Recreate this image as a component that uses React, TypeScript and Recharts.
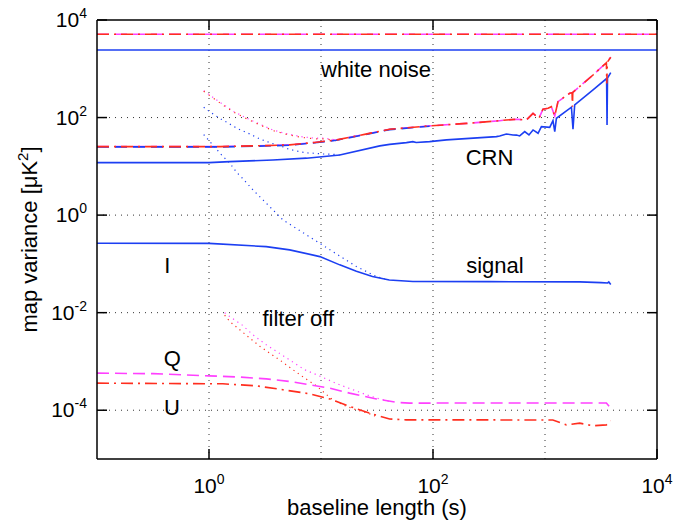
import { LineChart, Line, XAxis, YAxis, ReferenceLine, ReferenceDot, Label } from "recharts";

const FONT = '"Liberation Sans", Arial, Helvetica, sans-serif';
const BLUE = "#1c3ff2";
const RED = "#ff2e1f";
const MAGENTA = "#ff40ff";

// axes
const xTicks = [1, 100, 10000];
const yTicks = [1e-4, 1e-2, 1, 100, 10000];
const xGrid = [1, 10, 100, 1000];
const yGrid = [1e-4, 1e-2, 1, 100];

// white noise
const wnX = [0.1, 10000];
const wnI = [2430, 2430];
const wnQU = [5100, 5100];

// CRN, I (solid)
const crnIx = [0.1, 1, 1.53, 3.72, 7.41, 14.7, 33.5, 41, 57.9, 66.1, 70.8, 93.3, 132, 368, 394, 452, 518, 556, 594, 659, 719, 782, 867, 929, 1102, 1178, 1222, 1265, 1722, 1778, 1841, 2685, 3548, 3581, 3614, 3864];
const crnIy = [11.9, 11.9, 12.5, 13.5, 14.7, 17.1, 26.3, 28.2, 30.6, 32.1, 30.9, 32.1, 34.8, 40.6, 42.0, 46.1, 44.0, 43.7, 42.0, 51.4, 44.0, 55.7, 47.6, 65.2, 63.1, 86.3, 51.4, 96.8, 163, 57.5, 181, 368, 631, 70.5, 646, 832];

// CRN, Q (dashed) and U (dash-dot)
const crnQx = [0.1, 1.26, 2.63, 5.25, 8.79, 13.7, 25.1, 41, 93.3, 200, 394, 452, 556, 682, 782, 883, 959, 1064, 1140, 1222, 1306, 1660, 1758, 1905, 2685, 3532, 3864];
const crnQy = [25.4, 25.4, 26.3, 27.5, 30.9, 34.7, 45.7, 57.5, 67.6, 75.9, 86.3, 89.1, 92.3, 89.1, 122, 96.8, 148, 155, 167, 108, 212, 315, 324, 380, 746, 1334, 1722];
const crnUx = [0.1, 1.26, 2.63, 5.25, 8.79, 13.7, 25.1, 41, 93.3, 200, 394, 452, 556, 682, 782, 883, 959, 1064, 1140, 1222, 1306, 1660, 1745, 1758, 1770, 1905, 2685, 3532, 3565, 3600, 3864];
const crnUy = [25.4, 25.4, 26.3, 27.5, 30.9, 34.7, 45.7, 57.5, 67.6, 75.9, 86.3, 89.1, 92.3, 89.1, 122, 96.8, 148, 155, 167, 108, 212, 315, 322, 167, 328, 380, 746, 1334, 501, 1360, 1722];
const crnDashX = [0.1, 1.26, 2.63, 5.25, 8.79, 13.7, 25.1, 41, 93.3];
const crnDashY = [25.0, 25.0, 25.9, 27.0, 30.4, 34.2, 45.0, 56.6, 66.5];

// filter off, CRN
const offCrnQUx = [0.897, 1.29, 1.67, 2.18, 2.85, 3.72, 5.01, 6.68, 8.79, 10.8, 13.7];
const offCrnQUy = [356, 196, 132, 96.8, 72.9, 55.7, 46.1, 40.6, 37.7, 37.7, 34.7];
const offCrnIx = [0.897, 1.01, 1.29, 1.46, 1.67, 1.91, 2.18, 2.51, 2.85, 3.3, 3.78, 4.35, 5.01, 5.82, 6.68, 7.66, 8.79, 10.4, 12.4, 14.7];
const offCrnIy = [163, 132, 92.3, 78.7, 65.2, 55.7, 49.1, 42.0, 36.4, 32.1, 28.8, 26.2, 23.1, 21.0, 19.7, 18.8, 18.5, 17.9, 17.8, 17.1];

// signal
const sigIx = [0.1, 1, 3.24, 5.25, 9.77, 14.7, 20.7, 28.8, 40.7, 66.1, 316, 2042, 3162, 3631, 3715, 3864];
const sigIy = [0.265, 0.263, 0.226, 0.194, 0.141, 0.0955, 0.0708, 0.055, 0.0468, 0.0437, 0.0432, 0.0427, 0.0412, 0.0407, 0.0427, 0.038];
const sigQx = [0.1, 0.316, 1, 1.88, 3.25, 5.25, 7.93, 12.0, 18.0, 31.3, 47.1, 61.7, 3532, 3864];
const sigQy = [5.75e-4, 5.62e-4, 5.07e-4, 4.79e-4, 4.4e-4, 3.89e-4, 3.31e-4, 2.84e-4, 2.24e-4, 1.7e-4, 1.45e-4, 1.4e-4, 1.41e-4, 1.1e-4];
const sigUx = [0.1, 1.33, 2.65, 4.57, 7.93, 12.0, 18.0, 27.2, 41.0, 57.5, 1175, 1549, 2042, 2692, 3532, 3864];
const sigUy = [3.59e-4, 3.48e-4, 3.16e-4, 2.63e-4, 2.17e-4, 1.7e-4, 1.2e-4, 8.71e-5, 6.61e-5, 6.35e-5, 6.31e-5, 5.01e-5, 5.43e-5, 4.79e-5, 5.01e-5, 6.03e-5];

// filter off, signal
const offSigIx = [0.897, 1.32, 1.46, 1.62, 1.76, 1.95, 2.47, 4.57, 9.72, 20.7, 31.3, 37.2];
const offSigIy = [44.7, 16.3, 13.1, 9.86, 7.57, 5.98, 3.28, 0.798, 0.265, 0.0881, 0.055, 0.049];
const offSigQx = [1.38, 1.53, 1.97, 2.47, 3.25, 4.05, 5.25, 7.14, 9.1, 11.6, 14.7, 19.3, 24.5, 31.3, 40.7];
const offSigQy = [1.0e-2, 8.32e-3, 5.62e-3, 3.51e-3, 2.19e-3, 1.58e-3, 1.07e-3, 6.76e-4, 5.37e-4, 4.2e-4, 3.31e-4, 2.63e-4, 2.14e-4, 1.78e-4, 1.51e-4];
const offSigUx = [1.38, 1.53, 1.88, 2.31, 2.84, 3.48, 4.28, 5.62, 7.14, 9.1, 10.8, 12.8, 16.9, 20.7, 26.3, 31.3];
const offSigUy = [8.91e-3, 6.61e-3, 4.47e-3, 3.02e-3, 2.04e-3, 1.48e-3, 1.07e-3, 6.76e-4, 4.57e-4, 3.16e-4, 2.24e-4, 1.62e-4, 1.2e-4, 1.02e-4, 8.71e-5, 7.41e-5];

// text labels in the plot
const notes = [
  { text: "white noise", x: 10, y: 664 },
  { text: "CRN", x: 196, y: 10.7 },
  { text: "I", x: 0.398, y: 0.0664 },
  { text: "signal", x: 198, y: 0.0664 },
  { text: "filter off", x: 3.0, y: 5.37e-3 },
  { text: "Q", x: 0.394, y: 8.13e-4 },
  { text: "U", x: 0.396, y: 8.05e-5 },
];

const pts = (xs: number[], ys: number[]) => xs.map((x, i) => ({ x, y: ys[i] }));
const exp = (v: number) => Math.round(Math.log10(v));

const DASH = "12 6";
const DASHDOT = "12 5 2 5";
const DOT = "1.2 4";

const series = [
  { d: pts(offCrnQUx, offCrnQUy), c: MAGENTA, w: 1.2, s: DOT },
  { d: pts(offCrnQUx, offCrnQUy.map((v) => v * 0.97)), c: RED, w: 1.2, s: "1.2 5" },
  { d: pts(offCrnIx, offCrnIy), c: BLUE, w: 1.2, s: DOT },
  { d: pts(offSigIx, offSigIy), c: BLUE, w: 1.2, s: DOT },
  { d: pts(offSigQx, offSigQy), c: MAGENTA, w: 1.2, s: DOT },
  { d: pts(offSigUx, offSigUy), c: RED, w: 1.2, s: DOT },
  { d: pts(wnX, wnI), c: BLUE, w: 1.6, s: undefined },
  { d: pts(wnX, wnQU), c: MAGENTA, w: 1.6, s: DASH },
  { d: pts(wnX, wnQU), c: RED, w: 1.6, s: DASHDOT },
  { d: pts(crnIx, crnIy), c: BLUE, w: 1.6, s: undefined },
  { d: pts(crnQx, crnQy), c: MAGENTA, w: 1.6, s: DASH },
  { d: pts(crnDashX, crnDashY), c: BLUE, w: 1.6, s: DASH },
  { d: pts(crnUx, crnUy), c: RED, w: 1.6, s: DASHDOT },
  { d: pts(sigIx, sigIy), c: BLUE, w: 1.6, s: undefined },
  { d: pts(sigQx, sigQy), c: MAGENTA, w: 1.6, s: DASH },
  { d: pts(sigUx, sigUy), c: RED, w: 1.6, s: DASHDOT },
];

const Pow = ({ v }: { v: number }) => (
  <>
    10<tspan dy={-9} fontSize={14}>{exp(v)}</tspan>
  </>
);

const BottomTick = (p: any) => (
  <g>
    <line x1={p.x} y1={p.y} x2={p.x} y2={p.y - 10} stroke="#000" strokeWidth={1.5} />
    <text x={p.x} y={p.y + 34} textAnchor="middle" fontSize={21} fill="#000">
      <Pow v={p.payload.value} />
    </text>
  </g>
);
const TopTick = (p: any) => (
  <line x1={p.x} y1={p.y} x2={p.x} y2={p.y + 10} stroke="#000" strokeWidth={1.5} />
);
const LeftTick = (p: any) => (
  <g>
    <line x1={p.x} y1={p.y} x2={p.x + 10} y2={p.y} stroke="#000" strokeWidth={1.5} />
    <text x={p.x - 10} y={p.y + 7} textAnchor="end" fontSize={21} fill="#000">
      <Pow v={p.payload.value} />
    </text>
  </g>
);
const RightTick = (p: any) => (
  <line x1={p.x} y1={p.y} x2={p.x - 10} y2={p.y} stroke="#000" strokeWidth={1.5} />
);

const noteShape = (text: string) => (p: any) => (
  <text x={p.cx} y={p.cy} fontSize={22} fill="#000">
    {text}
  </text>
);

const axisLine = { stroke: "#000", strokeWidth: 1.5 };

export default function App() {
  return (
    <div style={{ position: "absolute", left: 0, top: 0, fontFamily: FONT, background: "#fff" }}>
      <LineChart width={694} height={524} margin={{ top: 19, right: 36, bottom: 64, left: 96 }}>
        <XAxis
          xAxisId="b"
          type="number"
          dataKey="x"
          scale="log"
          domain={[0.1, 10000]}
          allowDataOverflow
          ticks={xTicks}
          interval={0}
          height={1}
          tickSize={0}
          tickMargin={0}
          tickLine={false}
          axisLine={axisLine}
          tick={BottomTick}
        >
          <Label
            content={(p: any) => (
              <text x={p.viewBox.x + p.viewBox.width / 2} y={p.viewBox.y + 56} textAnchor="middle" fontSize={22} fill="#000">
                baseline length (s)
              </text>
            )}
          />
        </XAxis>
        <XAxis
          xAxisId="t"
          orientation="top"
          type="number"
          dataKey="x"
          scale="log"
          domain={[0.1, 10000]}
          allowDataOverflow
          ticks={xTicks}
          interval={0}
          height={1}
          tickSize={0}
          tickMargin={0}
          tickLine={false}
          axisLine={axisLine}
          tick={TopTick}
        />
        <YAxis
          yAxisId="l"
          type="number"
          dataKey="y"
          scale="log"
          domain={[1e-5, 10000]}
          allowDataOverflow
          ticks={yTicks}
          interval={0}
          width={1}
          tickSize={0}
          tickMargin={0}
          tickLine={false}
          axisLine={axisLine}
          tick={LeftTick}
        >
          <Label
            content={(p: any) => {
              const cx = 37;
              const cy = p.viewBox.y + p.viewBox.height / 2;
              return (
                <text x={cx} y={cy} transform={`rotate(-90 ${cx} ${cy})`} textAnchor="middle" fontSize={22} fill="#000">
                  map variance [μK<tspan dy={-9} fontSize={15}>2</tspan>
                  <tspan dy={9}>]</tspan>
                </text>
              );
            }}
          />
        </YAxis>
        <YAxis
          yAxisId="r"
          orientation="right"
          type="number"
          dataKey="y"
          scale="log"
          domain={[1e-5, 10000]}
          allowDataOverflow
          ticks={yTicks}
          interval={0}
          width={1}
          tickSize={0}
          tickMargin={0}
          tickLine={false}
          axisLine={axisLine}
          tick={RightTick}
        />
        {xGrid.map((v) => (
          <ReferenceLine key={"gx" + v} xAxisId="b" yAxisId="l" x={v} stroke="#333" strokeDasharray="1 5" />
        ))}
        {yGrid.map((v) => (
          <ReferenceLine key={"gy" + v} xAxisId="b" yAxisId="l" y={v} stroke="#333" strokeDasharray="1 5" />
        ))}
        {series.map((s, i) => (
          <Line
            key={i}
            name={"s" + i}
            xAxisId="b"
            yAxisId="l"
            data={s.d}
            dataKey="y"
            type="linear"
            stroke={s.c}
            strokeWidth={s.w}
            strokeDasharray={s.s}
            dot={false}
            activeDot={false}
            isAnimationActive={false}
          />
        ))}
        {notes.map((n) => (
          <ReferenceDot key={n.text} xAxisId="b" yAxisId="l" x={n.x} y={n.y} r={0} shape={noteShape(n.text)} />
        ))}
      </LineChart>
    </div>
  );
}
